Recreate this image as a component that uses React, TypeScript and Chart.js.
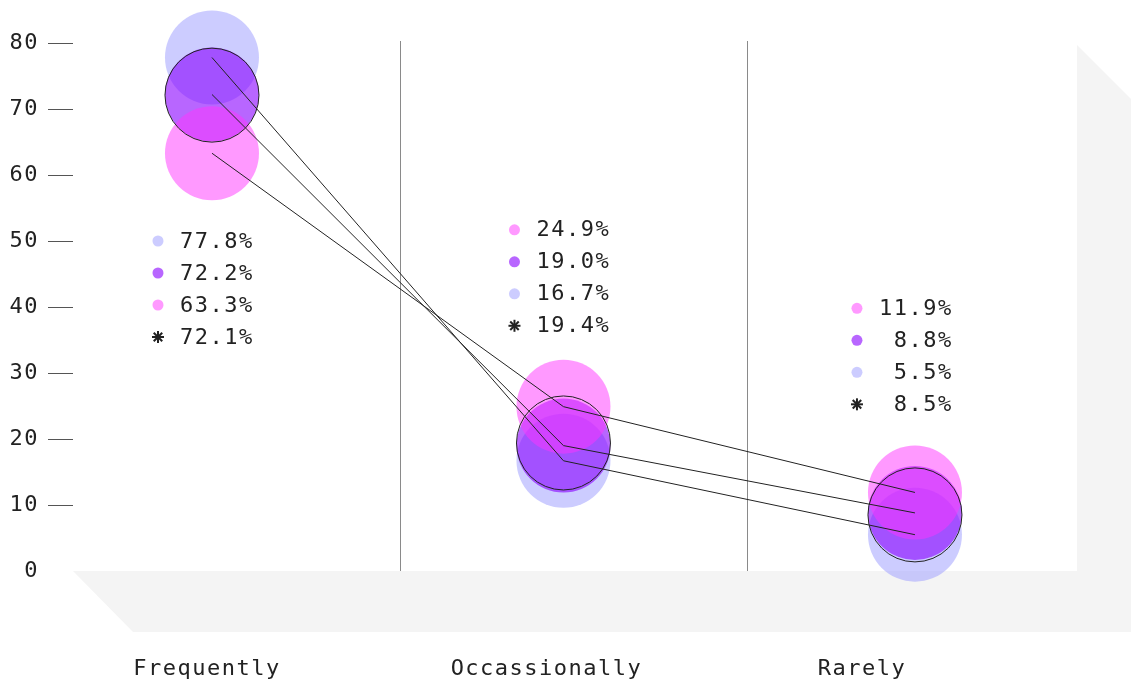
import React, { useEffect, useRef } from 'react';
import { Chart, registerables } from 'chart.js';

Chart.register(...registerables);

const categories = ['Frequently', 'Occassionally', 'Rarely'];
const lavenderValues = [77.8, 16.7, 5.5];
const purpleValues = [72.2, 19.0, 8.8];
const pinkValues = [63.3, 24.9, 11.9];
const overallValues = [72.1, 19.4, 8.5];
const yTickValues = [0, 10, 20, 30, 40, 50, 60, 70, 80];

const FONT = '"DejaVu Sans Mono", monospace';
const TEXT = '#222222';
const LAVENDER = 'rgba(153,153,255,0.5)';
const PURPLE = 'rgba(136,0,255,0.6)';
const PINK = 'rgba(255,51,255,0.5)';
const BUBBLE_R = 47;

const seriesList = [
  { name: 'lavender', values: lavenderValues, color: LAVENDER },
  { name: 'purple', values: purpleValues, color: PURPLE },
  { name: 'pink', values: pinkValues, color: PINK },
];

const toPoints = (vals: number[]) => vals.map((v, i) => ({ x: i, y: v, r: BUBBLE_R }));
const toLine = (vals: number[]) => vals.map((v, i) => ({ x: i, y: v }));

const spacingPlugin = {
  id: 'spacing',
  beforeLayout(chart: any) {
    chart.ctx.letterSpacing = '1.5px';
  },
  beforeDraw(chart: any) {
    chart.ctx.letterSpacing = '1.5px';
  },
};

const floorPlugin = {
  id: 'floor',
  beforeDatasetsDraw(chart: any) {
    const { ctx, chartArea } = chart;
    const { left, right, top, bottom } = chartArea;
    const d = 55;
    ctx.save();
    ctx.fillStyle = '#f4f4f4';
    ctx.beginPath();
    ctx.moveTo(left, bottom);
    ctx.lineTo(right, bottom);
    ctx.lineTo(right, top + 2);
    ctx.lineTo(right + d, top + 2 + d);
    ctx.lineTo(right + d, bottom + 61);
    ctx.lineTo(left + 60, bottom + 61);
    ctx.closePath();
    ctx.fill();
    // separators
    const xs = chart.scales.x;
    ctx.strokeStyle = '#8a8a8a';
    ctx.lineWidth = 1;
    [0.535, 1.522].forEach((v) => {
      const px = Math.round(xs.getPixelForValue(v)) + 0.5;
      ctx.beginPath();
      ctx.moveTo(px, top - 2);
      ctx.lineTo(px, bottom);
      ctx.stroke();
    });
    ctx.restore();
  },
};

const annotationPlugin = {
  id: 'annot',
  afterDraw(chart: any) {
    const { ctx, chartArea } = chart;
    const xs = chart.scales.x;
    const ys = chart.scales.y;
    const legendTop = [50.0, 51.7, 39.8];
    const legendDx = [-54, -49, -58];
    const labelDx = [-5, -17, -53];
    ctx.save();
    ctx.letterSpacing = '1.5px';
    ctx.font = `22px ${FONT}`;
    ctx.fillStyle = TEXT;
    ctx.textBaseline = 'middle';
    categories.forEach((cat, i) => {
      const cx = xs.getPixelForValue(i);
      ctx.textAlign = 'center';
      ctx.fillStyle = TEXT;
      ctx.fillText(cat, cx + labelDx[i], chartArea.bottom + 98);
      const rows = seriesList
        .map((s) => ({ color: s.color, v: s.values[i] }))
        .sort((a, b) => b.v - a.v);
      const dotX = cx + legendDx[i];
      const y0 = ys.getPixelForValue(legendTop[i]);
      const all = [...rows, { color: null as any, v: overallValues[i] }];
      all.forEach((row, k) => {
        const y = y0 + k * 32;
        if (row.color) {
          ctx.fillStyle = row.color;
          ctx.beginPath();
          ctx.arc(dotX, y, 5.5, 0, Math.PI * 2);
          ctx.fill();
        } else {
          ctx.strokeStyle = TEXT;
          ctx.lineWidth = 2;
          for (let a = 0; a < 4; a++) {
            const ang = (a * Math.PI) / 4;
            ctx.beginPath();
            ctx.moveTo(dotX - 6 * Math.cos(ang), y - 6 * Math.sin(ang));
            ctx.lineTo(dotX + 6 * Math.cos(ang), y + 6 * Math.sin(ang));
            ctx.stroke();
          }
        }
        ctx.fillStyle = TEXT;
        ctx.textAlign = 'left';
        const txt = (row.v.toFixed(1) + '%').padStart(5, ' ');
        ctx.fillText(txt, dotX + 22, y + 1);
      });
    });
    ctx.restore();
  },
};

export default function App() {
  const ref = useRef<HTMLCanvasElement>(null);
  useEffect(() => {
    if (!ref.current) return;
    const bubbleOrders = [4, 3, 2];
    const datasets: any[] = [];
    seriesList.forEach((s, idx) => {
      datasets.push({
        type: 'bubble',
        label: s.name,
        data: toPoints(s.values),
        backgroundColor: s.color,
        borderWidth: 0,
        order: bubbleOrders[idx],
        clip: false,
      });
    });
    datasets.push({
      type: 'bubble',
      label: 'overall',
      data: toPoints(overallValues),
      backgroundColor: 'rgba(0,0,0,0)',
      borderColor: TEXT,
      borderWidth: 1,
      order: 1,
      clip: false,
    });
    seriesList.forEach((s) => {
      datasets.push({
        type: 'line',
        label: s.name + ' line',
        data: toLine(s.values),
        borderColor: TEXT,
        borderWidth: 1,
        pointRadius: 0,
        fill: false,
        tension: 0,
        order: 0,
        clip: false,
      });
    });
    const chart = new Chart(ref.current, {
      type: 'bubble',
      data: { datasets },
      plugins: [spacingPlugin, floorPlugin, annotationPlugin],
      options: {
        animation: false,
        responsive: false,
        maintainAspectRatio: false,
        layout: { autoPadding: false, padding: { left: 0, top: 43, right: 54, bottom: 111 } },
        plugins: { legend: { display: false }, tooltip: { enabled: false } },
        scales: {
          x: { type: 'linear', min: -0.3954, max: 2.461, display: false },
          y: {
            type: 'linear',
            min: 0,
            max: 80,
            afterBuildTicks: (axis: any) => {
              axis.ticks = yTickValues.map((v) => ({ value: v }));
            },
            afterFit: (axis: any) => {
              axis.width = 73;
            },
            ticks: {
              padding: 9,
              color: TEXT,
              font: { family: FONT, size: 22 },
            },
            grid: {
              drawOnChartArea: false,
              drawTicks: true,
              tickLength: 25,
              color: (c: any) => (c.tick && c.tick.value === 0 ? 'rgba(0,0,0,0)' : '#555555'),
            },
            border: { display: false },
          },
        },
      } as any,
    });
    return () => chart.destroy();
  }, []);
  return (
    <div style={{ position: 'absolute', left: 0, top: 0, width: 1131, height: 682, background: '#fff' }}>
      <canvas ref={ref} width={1131} height={682} style={{ display: 'block' }} />
    </div>
  );
}
